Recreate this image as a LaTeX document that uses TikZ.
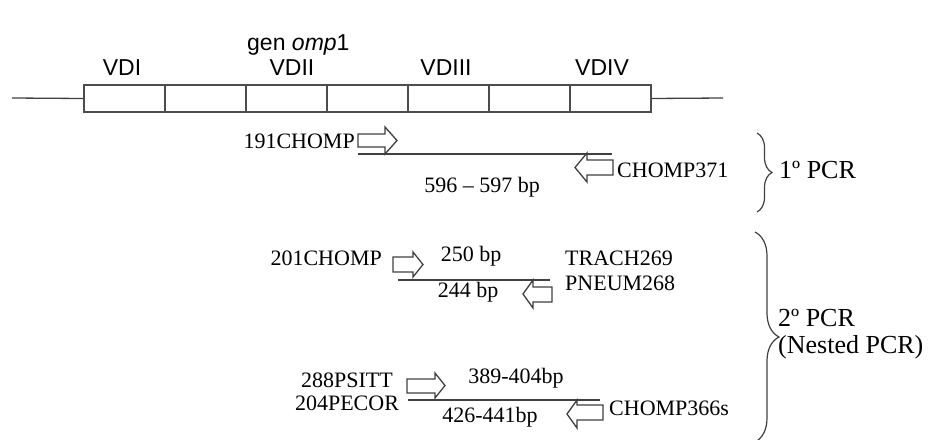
\documentclass[tikz,border=0pt]{standalone}
\usepackage{fontspec}
\setmainfont{Liberation Serif}
\newfontfamily\arialf{Liberation Sans}
\usetikzlibrary{decorations.pathreplacing}
\begin{document}
\begin{tikzpicture}[x=1pt,y=-1pt,
  lab/.style={inner sep=0pt, font=\fontsize{22}{24}\selectfont},
  sanslab/.style={inner sep=0pt, font=\arialf\fontsize{23}{26}\selectfont},
  biglab/.style={inner sep=0pt, font=\fontsize{26}{28}\selectfont},
  seg/.style={draw=black!70, line width=1.6pt, minimum width=81pt, minimum height=27pt, inner sep=0pt},
  dna/.style={draw=black!75, line width=1.3pt},
  primer/.style={draw=black!75, line width=1.3pt, fill=white, line join=miter},
  bracel/.style={draw=black!75, line width=1.2pt, decorate}
]
\useasboundingbox (0,0) rectangle (931,439);

% gene
\node[sanslab, anchor=base west] (gen) at (247,50) {gen \textit{omp}1};
\foreach \i in {1,...,7} {
  \node[seg] (b\i) at ({84+40.5+81*(\i-1)},98.5) {};
}
\coordinate (gl) at (12,98);
\coordinate (gr) at (723,98);
\draw[dna] (gl) -- (b1.west);
\draw[dna] (b7.east) -- (gr);
\node[sanslab, anchor=base] (vd1) at (122,75) {VDI};
\node[sanslab, anchor=base] (vd2) at (292,75) {VDII};
\node[sanslab, anchor=base] (vd3) at (446,75) {VDIII};
\node[sanslab, anchor=base] (vd4) at (602,75) {VDIV};

% 1st PCR
\draw[primer] (358,134) -- (385,134) -- (385,127) -- (397,140.5) -- (385,154) -- (385,147) -- (358,147) -- cycle;
\draw[primer] (613,160) -- (587,160) -- (587,153) -- (575,167.5) -- (587,182) -- (587,175) -- (613,175) -- cycle;
\coordinate (p1a) at (358,154);
\coordinate (p1b) at (612,154);
\draw[dna] (p1a) -- (p1b);
\node[lab, anchor=base east] (f1) at (355,148) {191CHOMP};
\node[lab, anchor=base west] (r1) at (617,177) {CHOMP371};
\node[lab, anchor=base] (s1) at (482,192) {596 -- 597 bp};
\draw[bracel, decoration={brace, amplitude=15pt}] (757,133) -- (757,212);
\node[biglab, anchor=base west] (pcr1) at (779,178) {1º PCR};

% 2nd PCR a
\draw[primer] (393,257) -- (413,257) -- (413,252) -- (423,264.5) -- (413,277) -- (413,272) -- (393,272) -- cycle;
\draw[primer] (552,287) -- (533,287) -- (533,280) -- (523,294) -- (533,308) -- (533,302) -- (552,302) -- cycle;
\coordinate (p2a) at (398,280);
\coordinate (p2b) at (550,280);
\draw[dna] (p2a) -- (p2b);
\node[lab, anchor=base east] (f2) at (382,265) {201CHOMP};
\node[lab, anchor=base] (s2a) at (471,261) {250 bp};
\node[lab, anchor=base] (s2b) at (468,297) {244 bp};
\node[lab, anchor=base west] (r2a) at (565,265) {TRACH269};
\node[lab, anchor=base west] (r2b) at (565,290) {PNEUM268};

% 2nd PCR b
\draw[primer] (407,379) -- (435,379) -- (435,373) -- (445,385.5) -- (435,398) -- (435,393) -- (407,393) -- cycle;
\draw[primer] (603,405) -- (577,405) -- (577,400) -- (567,414) -- (577,428) -- (577,420) -- (603,420) -- cycle;
\coordinate (p3a) at (408,400);
\coordinate (p3b) at (600,400);
\draw[dna] (p3a) -- (p3b);
\node[lab, anchor=base] (f3a) at (347,387) {288PSITT};
\node[lab, anchor=base] (f3b) at (347,410) {204PECOR};
\node[lab, anchor=base] (s3a) at (516,383) {389-404bp};
\node[lab, anchor=base] (s3b) at (490,422) {426-441bp};
\node[lab, anchor=base west] (r3) at (609,415) {CHOMP366s};

\draw[bracel, decoration={brace, amplitude=24pt}] (755,232) -- (755,442);
\node[biglab, anchor=base west] (pcr2a) at (778,326) {2º PCR};
\node[biglab, anchor=base west] (pcr2b) at (778,353) {(Nested PCR)};
\end{tikzpicture}
\end{document}
